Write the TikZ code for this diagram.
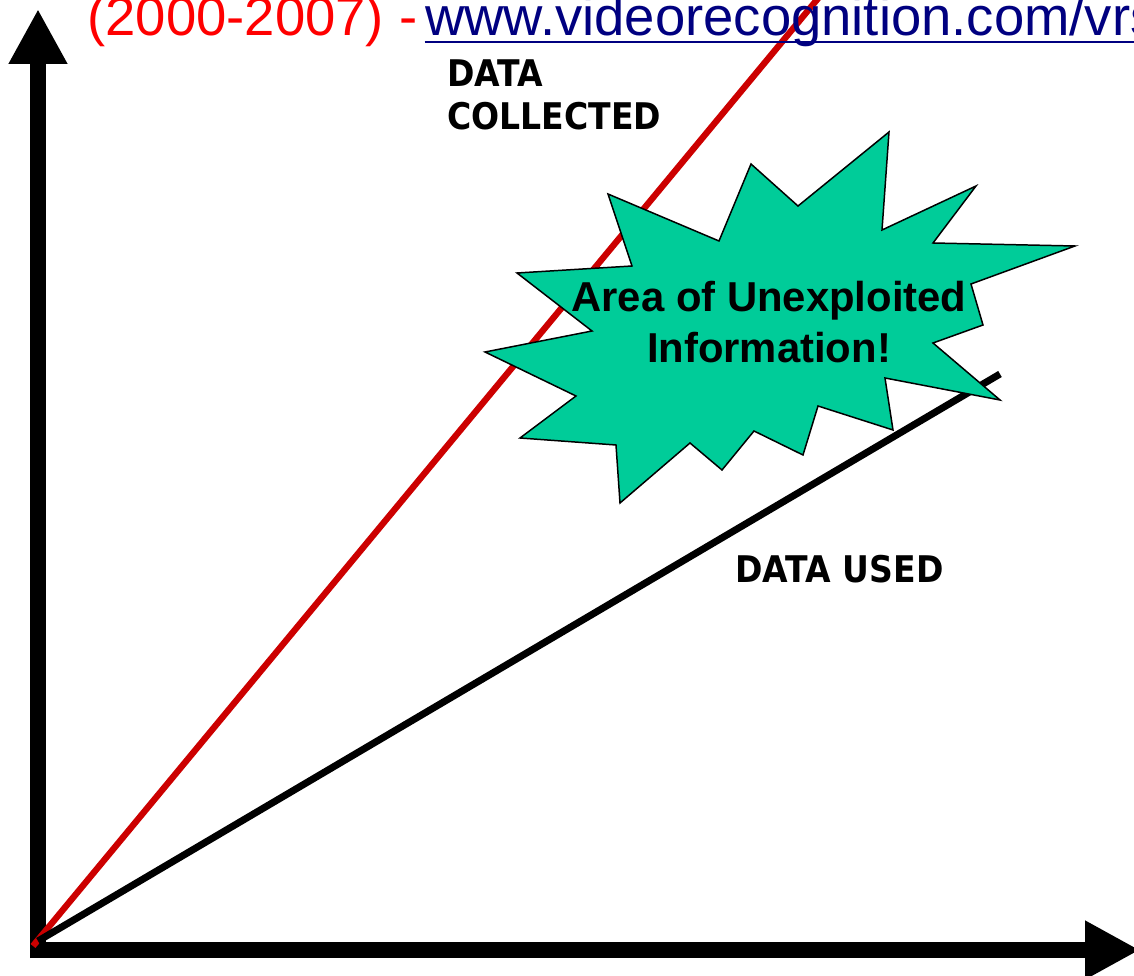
\documentclass[tikz,border=0pt]{standalone}
\usepackage{fontspec}
\setmainfont{Liberation Sans}
\newfontfamily\labelfont[FakeStretch=0.9]{DejaVu Sans}
\usepackage{xcolor}
\usepackage{tikz}
\usetikzlibrary{arrows.meta,calc,positioning}
\definecolor{burstgreen}{RGB}{0,204,153}
\definecolor{linered}{RGB}{204,0,0}
\definecolor{linknavy}{RGB}{0,0,128}
\tikzset{axis/.style={line width=.32cm,-{Triangle[length=1.1cm,width=1.1cm]}},
  datalabel/.style={anchor=base west,inner sep=0,align=left,font=\labelfont\bfseries\fontsize{20.9}{24.5}\selectfont},
  titletext/.style={anchor=base west,inner sep=0,font=\fontsize{31}{36}\selectfont}}
\begin{document}
\begin{tikzpicture}[x=.02cm,y=-.02cm]
\useasboundingbox (0,0) rectangle (1134,976);
\clip (0,0) rectangle (1134,976);
% axes
\draw[axis] (38,958)--(38,9);
\draw[axis] (30,950)--(1140,950);
% data lines
\draw[linered,line width=3.6pt] (33,946)--(825,-10);
\draw[line width=4pt] (38,941)--(1000,374);
% star burst
\draw[fill=burstgreen,line width=.85pt] (889,132)--(882,230)--(976,186)--(933,243)--(1075,246)--(971,284)--(983,325)--(933,343)--(1000,400)--(885,378)--(893,430)--(818,406)--(803,455)--(754,431)--(722,470)--(690,443)--(620,503)--(616,445)--(520,438)--(576,396)--(485,352)--(592,331)--(517,273)--(632,266)--(608,194)--(719,241)--(751,164)--(798,206)--cycle;
\node[inner sep=0,align=center,font=\bfseries\fontsize{23.8}{29}\selectfont] (area) at (769,322) {Area of Unexploited\\Information!};
\node[datalabel] (collected) at (447,130) {DATA\\COLLECTED};
\node[datalabel] (used) at (735,583) {DATA USED};
% title line
\node[titletext,red] (years) at (87,36) {(2000-2007) -};
\node[titletext,linknavy] (url) at ($(years.base east)+(7,0)$) {www.videorecognition.com/vrs};
\draw[linknavy,line width=1.7pt] ($(url.base west)+(0,6)$)--($(url.base east)+(0,6)$);
\end{tikzpicture}
\end{document}
